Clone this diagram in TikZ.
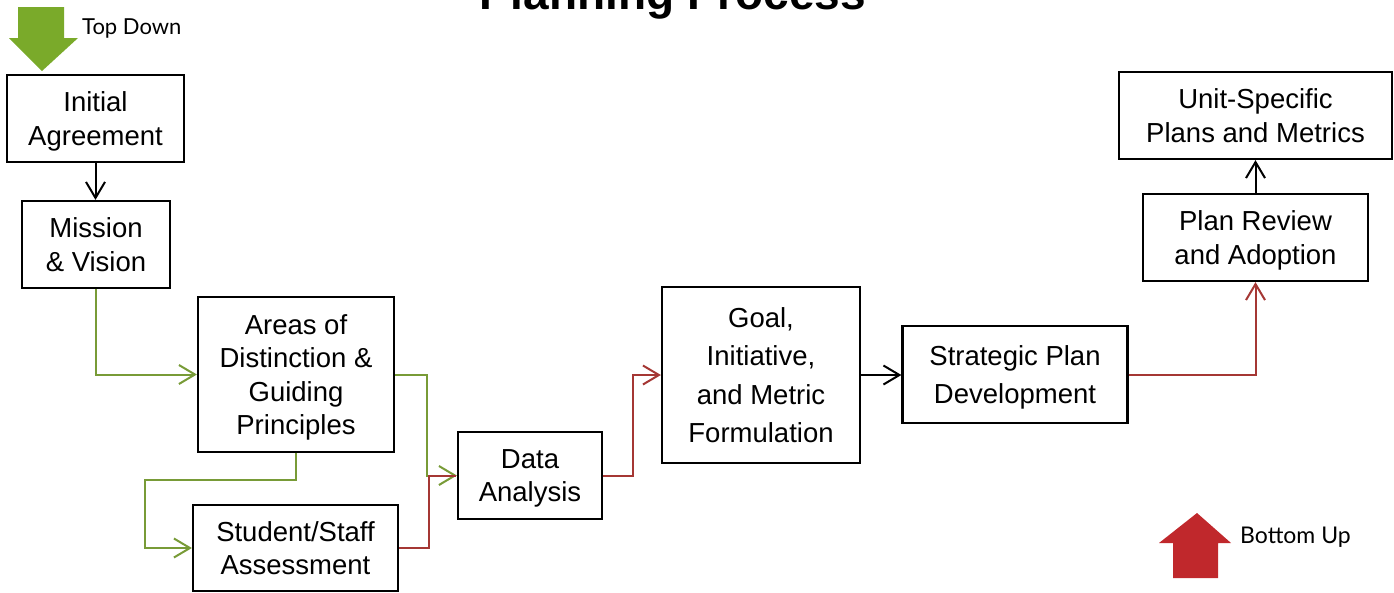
\documentclass[tikz,border=0pt]{standalone}
\usepackage{fontspec}
\setmainfont{Liberation Sans}
\newfontfamily\labelfont{Lato}
\usetikzlibrary{arrows.meta}
\definecolor{lnGreen}{RGB}{120,155,55}
\definecolor{lnRed}{RGB}{165,55,52}
\definecolor{bigGreen}{RGB}{122,170,42}
\definecolor{bigRed}{RGB}{192,40,44}
\tikzset{
  box/.style={draw, line width=2.2pt, inner sep=0pt, align=center, text depth=0pt,
    font=\fontsize{27.5}{33.5}\selectfont},
  widebox/.style={box, font=\fontsize{27.5}{38.5}\selectfont},
  conn/.style={line width=2pt, -{Straight Barb[length=16pt,width=19pt]}},
  plain/.style={line width=2pt},
}
\begin{document}
\begin{tikzpicture}[x=1pt,y=-1pt]
\useasboundingbox (0,0) rectangle (1394,592);
% title
\node[anchor=base, inner sep=0pt, font=\fontsize{46}{50}\selectfont\bfseries] (title) at (673,9.5) {Planning Process};
% big arrows
\fill[bigGreen] (18,7) -- (64,7) -- (64,38) -- (78,38) -- (42,71) -- (9,38) -- (18,38) -- cycle;
\node[anchor=base west, inner sep=0pt, font=\labelfont\fontsize{22}{26}\selectfont, text=black] (td) at (82,34) {Top Down};
\fill[bigRed] (1173,578) -- (1218,578) -- (1218,543) -- (1231,543) -- (1197,513) -- (1159,543) -- (1173,543) -- cycle;
\node[anchor=base west, inner sep=0pt, font=\labelfont\fontsize{23}{27}\selectfont, text=black] (bu) at (1240,543) {Bottom Up};
% boxes
\node[box, minimum width=177pt, minimum height=87pt] (ia) at (95.5,118.5) {Initial\\Agreement};
\node[box, minimum width=148pt, minimum height=87pt] (mv) at (96,244.5) {Mission\\\& Vision};
\node[box, minimum width=196pt, minimum height=155pt] (ad) at (296,374.5) {Areas of\\Distinction \&\\Guiding\\Principles};
\node[box, minimum width=205pt, minimum height=86pt] (ss) at (295.5,548) {Student/Staff\\Assessment};
\node[box, minimum width=144pt, minimum height=87pt] (da) at (530,475.5) {Data\\Analysis};
\node[widebox, minimum width=198pt, minimum height=176pt] (gi) at (761,375) {Goal,\\Initiative,\\and Metric\\Formulation};
\node[widebox, minimum width=225pt, minimum height=97pt] (sp) at (1015,374.5) {Strategic Plan\\Development};
\node[box, minimum width=225pt, minimum height=87pt] (pr) at (1255.5,237.5) {Plan Review\\and Adoption};
\node[box, minimum width=273pt, minimum height=87pt] (us) at (1255.5,115.5) {Unit-Specific\\Plans and Metrics};
% connectors
\draw[conn] (ia.south) -- (ia.south |- mv.north);
\draw[conn, lnGreen] (mv.south) |- (ad.west);
\draw[conn, lnGreen] (ad.south) -- ++(0,27) -| ([xshift=-47pt]ss.west) -- (ss.west);
\draw[conn, lnGreen] (ad.east) -- ++(32,0) |- (da.west);
\draw[plain, lnRed] (ss.east) -- ++(30,0) |- ([xshift=-1pt]da.west);
\draw[conn, lnRed] (da.east) -- ++(30,0) |- (gi.west);
\draw[conn] (gi.east) -- (gi.east -| sp.west);
\draw[conn, lnRed] (sp.east) -| (pr.south);
\draw[conn] (pr.north) -- (us.south);
\end{tikzpicture}
\end{document}
